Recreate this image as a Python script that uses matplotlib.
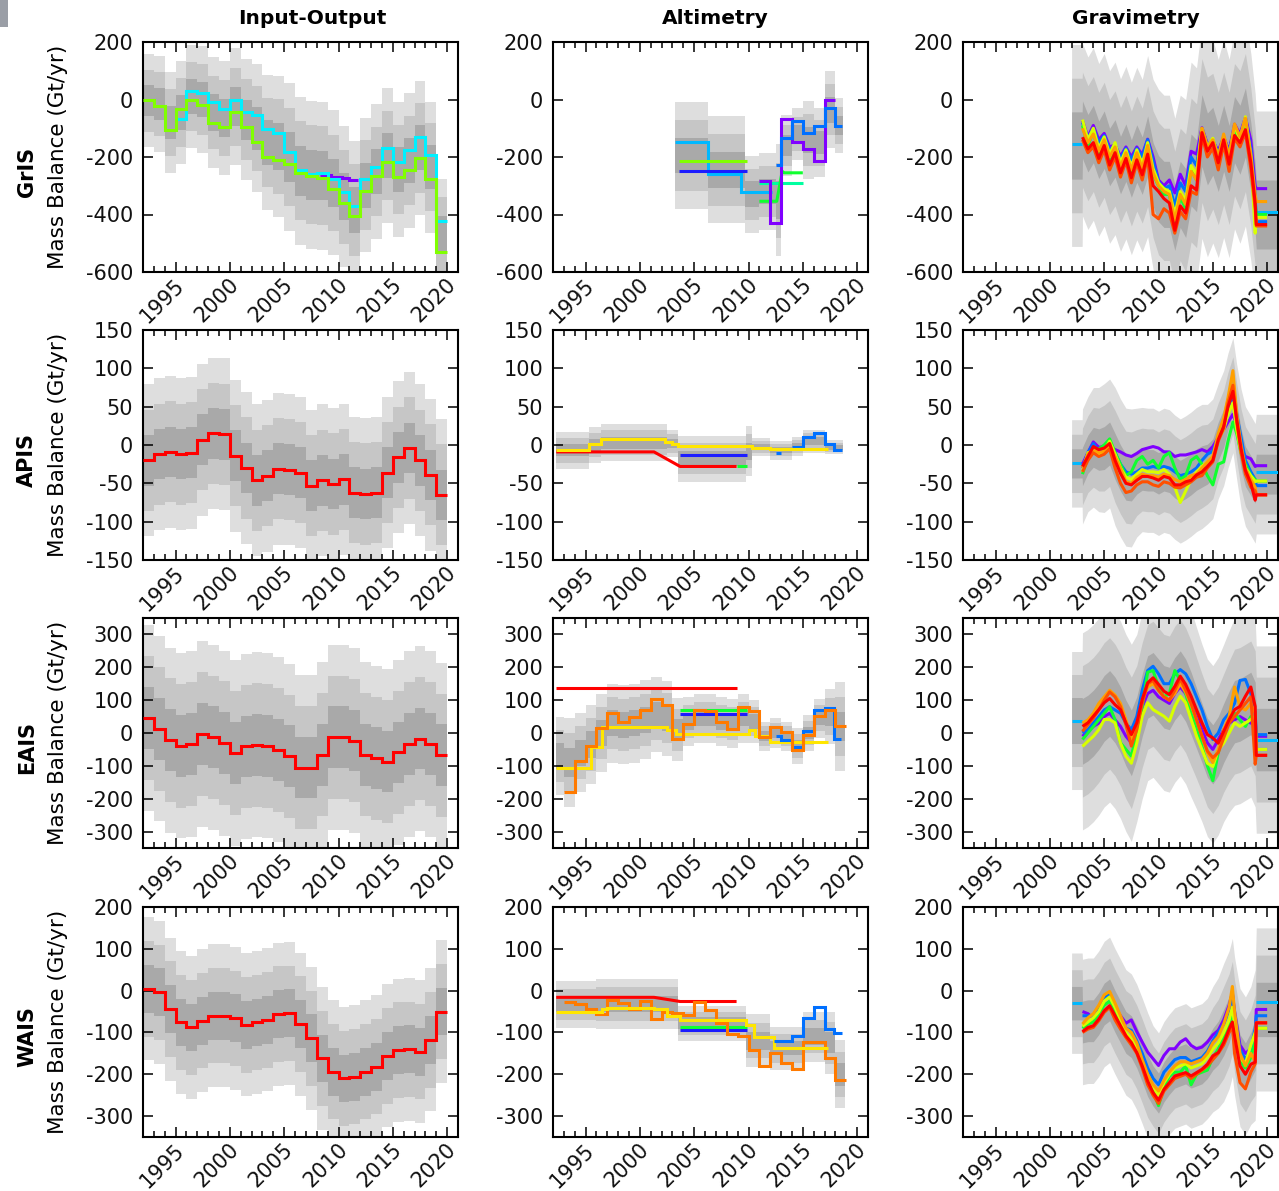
import numpy as np
import matplotlib
matplotlib.use("Agg")
import matplotlib.pyplot as plt
import matplotlib.transforms as mtransforms
from matplotlib.patches import Rectangle
from matplotlib.ticker import MultipleLocator

plt.rcParams["font.family"] = ["DejaVu Sans"]

# ---------------------------------------------------------------- colours
PURPLE = "#8000ff"
BLUE = "#1c1cff"
AZURE = "#0070ff"
SKY = "#00b8ff"
CYAN = "#00f0ff"
SPRING = "#00ffa0"
GREEN = "#10ff30"
LIME = "#80ff00"
YELLOW = "#ffe600"
GYELLOW = "#d8ff00"
ORANGE = "#ffa000"
DORANGE = "#ff7a00"
REDORANGE = "#ff5000"
RED = "#ff0000"
GREYS = ["#dedede", "#c6c6c6", "#a9a9a9"]   # 3, 2 and 1 sigma

ROWS = ["GrIS", "APIS", "EAIS", "WAIS"]
COLS = ["Input-Output", "Altimetry", "Gravimetry"]
YLIMS = [(-600, 200), (-150, 150), (-350, 350), (-350, 200)]
YTICKS = [[-600, -400, -200, 0, 200],
          [-150, -100, -50, 0, 50, 100, 150],
          [-300, -200, -100, 0, 100, 200, 300],
          [-300, -200, -100, 0, 100, 200]]
XTICKS = [1995, 2000, 2005, 2010, 2015, 2020]

# ---------------------------------------------------------------- input-output (annual)
IO_EDGES = list(range(1992, 2021))
IO_GRIS_LIME = [0, -24, -107, -32, -1, -18, -81, -96, -44, -96, -148, -200, -209, -223,
                -255, -267, -273, -310, -360, -406, -318, -266, -217, -269, -246, -203, -275, -529]
IO_GRIS_CYAN_EDGES = list(range(1995, 2021))
IO_GRIS_CYAN = [-67, 29, 23, -9, -32, -3, -44, -55, -102, -117, -183, -244, -260, -255,
                -275, -321, -371, -275, -235, -168, -217, -177, -131, -194, -422]
IO_GRIS_PURPLE_EDGES = [2008.3, 2009.3, 2010.3, 2011.0, 2011.8]
IO_GRIS_PURPLE = [-262, -268, -272, -280]
IO_GRIS_BAND_C = [-4, -15, -80, -45, 10, 0, -45, -65, -25, -70, -100, -150, -163, -200,
                  -248, -262, -265, -290, -338, -385, -298, -250, -195, -243, -212, -168, -235, -470]
IO_GRIS_BAND_S = [54, 56, 58, 60, 60, 62, 64, 66, 68, 70, 74, 78, 82, 86,
                  86, 86, 86, 84, 82, 80, 78, 78, 78, 78, 78, 78, 76, 65]

IO_APIS = [-20, -12, -9, -12, -10, 7, 15, 14, -14, -30, -46, -40, -31, -32,
           -36, -53, -46, -51, -45, -62, -64, -62, -36, -16, -4, -20, -39, -65]
IO_APIS_SIGMA = 33
IO_EAIS = [46, 13, -22, -39, -33, -3, -13, -31, -61, -41, -36, -39, -51, -71,
           -105, -105, -66, -13, -13, -23, -66, -77, -87, -59, -33, -17, -33, -68]
IO_EAIS_SIGMA = 94
IO_WAIS = [4, -4, -44, -76, -88, -72, -60, -60, -66, -82, -76, -70, -56, -54,
           -80, -114, -162, -194, -210, -206, -194, -182, -156, -142, -140, -146, -118, -50]
IO_WAIS_SIGMA = 57

# ---------------------------------------------------------------- altimetry (piecewise constant)
ALT_GRIS_SKY_EDGES = [2003.2, 2006.3, 2009.3, 2012.2]
ALT_GRIS_SKY = [-148, -258, -320]
ALT_GRIS_LIME_EDGES = [2003.6, 2009.9]
ALT_GRIS_LIME = [-214]
ALT_GRIS_BLUE_EDGES = [2003.6, 2009.9]
ALT_GRIS_BLUE = [-249]
ALT_GRIS_PURPLE_EDGES = [2011.0, 2012.0, 2013.0, 2014.0, 2015.0, 2016.0, 2017.0, 2018.0]
ALT_GRIS_PURPLE = [-283, -431, -67, -148, -173, -214, -1]
ALT_GRIS_AZURE_EDGES = [2012.5, 2013.0, 2014.0, 2015.0, 2016.0, 2017.0, 2018.0, 2018.6]
ALT_GRIS_AZURE = [-229, -134, -75, -117, -92, -29, -92]
ALT_GRIS_GREEN_X = [2011.0, 2012.6, 2013.1, 2013.3, 2015.0]
ALT_GRIS_GREEN_Y = [-354, -354, -250, -255, -255]
ALT_GRIS_SPRING_EDGES = [2011.0, 2015.0]
ALT_GRIS_SPRING = [-290]
ALT_GRIS_BAND_EDGES = [2003.2, 2006.3, 2009.7, 2011.0, 2012.5, 2013.0, 2014.0, 2015.0,
                       2016.0, 2017.0, 2018.0, 2018.7]
ALT_GRIS_BAND_C = [-195, -245, -330, -320, -350, -160, -120, -140, -150, -35, -90]
ALT_GRIS_BAND_S = [62, 62, 45, 45, 65, 35, 30, 45, 40, 45, 32]

ALT_APIS_YELLOW_EDGES = [1992.3, 1995.3, 1996.4, 2002.3, 2003.0, 2003.5, 2010.3, 2012.0, 2017.3]
ALT_APIS_YELLOW = [-6, 1, 8, 3.5, 1, -1.5, -3.5, -5]
ALT_APIS_RED_X = [1992.3, 2001.3, 2003.7, 2008.9]
ALT_APIS_RED_Y = [-9, -9, -28, -28]
ALT_APIS_GREEN_EDGES = [2008.9, 2009.9]
ALT_APIS_GREEN = [-28]
ALT_APIS_BLUE_EDGES = [2003.7, 2009.9]
ALT_APIS_BLUE = [-13]
ALT_APIS_AZURE_EDGES = [2012.5, 2013.0, 2014.0, 2015.0, 2016.0, 2017.0, 2017.9, 2018.6]
ALT_APIS_AZURE = [-11, np.nan, -2, 11, 15, 1, -7]
ALT_APIS_BAND_EDGES = [1992.3, 1995.3, 1996.4, 2002.5, 2003.5, 2009.8, 2010.3, 2012.0,
                       2014.0, 2015.0, 2017.0, 2018.7]
ALT_APIS_BAND_C = [-7, 0, 3, 2, -18, -8, -3, -7, -2, 5, -3]
ALT_APIS_BAND_S = [8, 8, 8, 6, 10, 11, 4, 4, 4, 5, 3]

ALT_EAIS_RED_EDGES = [1992.3, 2008.9]
ALT_EAIS_RED = [137]
ALT_EAIS_YELLOW_EDGES = [1992.3, 1995.5, 1996.5, 2002.5, 2003.3, 2010.0, 2010.6, 2012.0, 2017.3]
ALT_EAIS_YELLOW = [-107, -43, 17, 8, -3, 8, -8, -27]
ALT_EAIS_ORANGE_EDGES = list(range(1993, 2020))
ALT_EAIS_ORANGE = [-181, -84, -39, 15, 61, 34, 49, 71, 104, 86, -17, 28, 71, 68,
                   33, 13, 78, 66, -12, 18, 2, -53, -5, 53, 71, 20]
ALT_EAIS_GREEN_EDGES = [2003.7, 2009.9]
ALT_EAIS_GREEN = [69]
ALT_EAIS_BLUE_EDGES = [2003.7, 2009.9]
ALT_EAIS_BLUE = [58]
ALT_EAIS_AZURE_EDGES = [2012.5, 2013.0, 2014.0, 2015.0, 2016.0, 2017.0, 2017.9, 2018.5]
ALT_EAIS_AZURE = [-8, -22, -43, 5, 69, 76, -18]
ALT_EAIS_BAND_EDGES = [1992.3] + list(range(1993, 2019)) + [2018.9]
ALT_EAIS_BAND_C = [-70, -90, -60, -35, 0, 30, 25, 30, 40, 55, 45, 10, 35, 45,
                   45, 35, 30, 45, 35, -10, 0, -10, -40, 0, 45, 50, 20]
ALT_EAIS_BAND_S = [40, 45, 40, 40, 40, 40, 40, 40, 40, 38, 38, 32, 25, 25,
                   25, 25, 25, 25, 22, 15, 15, 15, 18, 18, 20, 28, 45]

ALT_WAIS_RED_X = [1992.3, 2001.3, 2003.7, 2008.9]
ALT_WAIS_RED_Y = [-16, -16, -26, -26]
ALT_WAIS_YELLOW_EDGES = [1992.3, 1996.5, 1997.0, 2001.3, 2002.5, 2003.7, 2009.8, 2010.5, 2012.3, 2017.3]
ALT_WAIS_YELLOW = [-50, -45, -42, -44, -60, -70, -82, -110, -138]
ALT_WAIS_ORANGE_EDGES = list(range(1993, 2020))
ALT_WAIS_ORANGE = [-26, -32, -44, -56, -22, -30, -44, -24, -68, -50, -54, -58, -26, -46,
                   -78, -104, -108, -142, -180, -150, -172, -188, -124, -122, -162, -214]
ALT_WAIS_GREEN_EDGES = [2003.7, 2009.9]
ALT_WAIS_GREEN = [-86]
ALT_WAIS_BLUE_EDGES = [2003.7, 2009.9]
ALT_WAIS_BLUE = [-94]
ALT_WAIS_AZURE_EDGES = [2012.3, 2014.0, 2015.0, 2016.0, 2017.0, 2017.9, 2018.6]
ALT_WAIS_AZURE = [-120, -108, -66, -40, -92, -102]
ALT_WAIS_BAND_EDGES = [1992.3, 1996.0, 2003.5, 2009.8, 2012.0, 2015.0, 2017.0, 2018.0, 2018.9]
ALT_WAIS_BAND_C = [-33, -32, -78, -120, -138, -110, -125, -200]
ALT_WAIS_BAND_S = [19, 20, 14, 21, 17, 20, 25, 27]

# ---------------------------------------------------------------- gravimetry (monthly products)
GRAV_T = [2003.0, 2003.5, 2004.0, 2004.5, 2005.0, 2005.5, 2006.0, 2006.5, 2007.0, 2007.5,
          2008.0, 2008.5, 2009.0, 2009.5, 2010.0, 2010.5, 2011.0, 2011.5, 2012.0, 2012.5,
          2013.0, 2013.5, 2014.0, 2014.5, 2015.0, 2015.5, 2016.0, 2016.5, 2017.0, 2017.5,
          2018.0, 2018.5, 2018.9, 2019.0, 2020.0]
GRAV_T_APIS = [2003.0, 2003.5, 2004.0, 2004.5, 2005.0, 2005.5, 2006.0, 2006.5, 2007.0, 2007.5,
               2008.0, 2008.5, 2009.0, 2009.5, 2010.0, 2010.5, 2011.0, 2011.5, 2012.0, 2012.5,
               2013.0, 2013.5, 2014.0, 2014.5, 2015.0, 2015.5,
               2016.0, 2016.4, 2016.85, 2017.2, 2017.6, 2018.0, 2018.5, 2018.9, 2019.0, 2020.0]
GRAV_T_WAIS = [2003.0, 2003.5, 2004.0, 2004.5, 2005.0, 2005.5, 2006.0, 2006.5, 2007.0, 2007.5,
               2008.0, 2008.5, 2009.0, 2009.5, 2010.0, 2010.5, 2011.0, 2011.5, 2012.0, 2012.5,
               2013.0, 2013.5, 2014.0, 2014.5, 2015.0, 2015.5, 2016.0, 2016.5,
               2016.8, 2017.0, 2017.5, 2018.0, 2018.5, 2018.9, 2019.0, 2020.0]

GRAV_GRIS_PURPLE = [-73, -130, -90, -140, -118, -165, -158, -198, -165, -200,
                    -165, -192, -138, -200, -280, -300, -280, -325, -260, -300,
                    -180, -190, -98, -155, -145, -178, -132, -178, -86, -120,
                    -62, -142, -300, -310, -310]
GRAV_GRIS_AZURE = [-80, -135, -100, -150, -125, -175, -160, -205, -170, -210,
                   -170, -200, -140, -215, -285, -310, -300, -370, -290, -320,
                   -200, -230, -105, -160, -140, -190, -130, -185, -95, -130,
                   -70, -170, -330, -425, -425]
GRAV_GRIS_GREEN = [-90, -160, -110, -190, -145, -210, -160, -240, -190, -255,
                   -190, -240, -165, -260, -300, -330, -330, -430, -340, -380,
                   -240, -280, -110, -175, -140, -210, -135, -215, -110, -155,
                   -75, -210, -360, -400, -400]
GRAV_GRIS_YELLOW = [-70, -140, -100, -170, -130, -190, -150, -220, -175, -235,
                    -175, -225, -150, -240, -290, -310, -320, -400, -320, -350,
                    -230, -260, -100, -165, -135, -200, -130, -200, -90, -140,
                    -60, -200, -465, -410, -410]
GRAV_GRIS_ORANGE = [-100, -150, -120, -180, -140, -200, -165, -235, -185, -245,
                    -185, -240, -160, -255, -300, -320, -330, -420, -330, -365,
                    -250, -280, -100, -165, -140, -200, -120, -200, -85, -130,
                    -65, -190, -330, -355, -355]
GRAV_GRIS_REDORANGE = [-140, -185, -165, -220, -175, -245, -200, -270, -215, -290,
                       -220, -280, -200, -400, -415, -380, -395, -465, -390, -415,
                       -320, -330, -125, -200, -170, -245, -155, -250, -135, -165,
                       -115, -240, -380, -440, -440]
GRAV_GRIS_RED = [-131, -172, -150, -205, -160, -228, -185, -255, -205, -272,
                 -210, -262, -190, -300, -320, -345, -360, -455, -370, -395,
                 -300, -315, -115, -180, -150, -220, -140, -225, -125, -150,
                 -105, -220, -360, -435, -435]
GRAV_GRIS_BAND_C = [-160, -105, -152, -120, -175, -140, -200, -170, -228, -185, -240,
                    -188, -230, -162, -260, -310, -330, -330, -410, -330, -360,
                    -245, -265, -108, -172, -145, -205, -135, -205, -105, -140,
                    -80, -200, -340, -400, -400]
GRAV_GRIS_BAND_S = [117, 100, 100, 100, 100, 100, 100, 100, 100, 100, 100,
                    100, 100, 105, 110, 115, 115, 115, 115, 115, 120,
                    125, 125, 125, 125, 118, 115, 115, 115, 115, 120,
                    120, 120, 120, 120, 120]

GRAV_APIS_PURPLE = [-25, -10, 4, -3, -2, -3, -6, -9, -13, -15,
                    -11, -6, -4, -2, -4, -9, -9, -15, -13, -13,
                    -11, -9, -6, -9, -2, 10,
                    20, 30, 40, 25, -5, -15, -18, -28, -27, -27]
GRAV_APIS_AZURE = [-30, -10, 2, -8, -6, 0, -10, -25, -35, -38,
                   -35, -30, -30, -28, -30, -28, -30, -35, -40, -38,
                   -35, -30, -20, -12, -8, 10,
                   25, 45, 65, 40, 10, -20, -35, -45, -53, -53]
GRAV_APIS_GREEN = [-38, -15, -10, -5, 0, 8, -10, -25, -40, -35,
                   -20, -15, -25, -20, -30, -15, -10, -30, -45, -40,
                   -20, -15, -25, -40, -52, -25,
                   -22, 5, 30, 15, -10, -25, -40, -45, -47, -47]
GRAV_APIS_YELLOW = [-35, -10, -8, -12, -8, 5, -12, -30, -42, -45,
                    -38, -32, -35, -35, -36, -32, -38, -55, -75, -60,
                    -45, -35, -28, -22, -15, 8,
                    20, 40, 55, 20, -10, -30, -40, -48, -47, -47]
GRAV_APIS_ORANGE = [-30, -12, -5, -10, -8, 0, -15, -30, -48, -50,
                    -42, -38, -40, -40, -42, -38, -40, -45, -48, -45,
                    -40, -38, -30, -22, -15, 15,
                    35, 62, 97, 40, 0, -30, -45, -55, -65, -65]
GRAV_APIS_REDORANGE = [-35, -20, -10, -15, -12, -5, -30, -50, -62, -60,
                       -52, -48, -48, -52, -54, -48, -50, -55, -56, -52,
                       -48, -42, -40, -30, -22, 5,
                       22, 55, 78, 30, -10, -38, -55, -60, -65, -65]
GRAV_APIS_RED = [-28, -15, -2, -6, -4, 2, -20, -37, -50, -52,
                 -46, -41, -41, -43, -46, -41, -43, -52, -52, -48,
                 -46, -39, -35, -28, -20, 7,
                 24, 50, 70, 33, -5, -33, -50, -72, -65, -65]
GRAV_APIS_BAND_C = [-24, -28, -12, -3, -6, -4, 2, -15, -30, -42, -43,
                    -36, -32, -33, -33, -37, -33, -35, -42, -47, -43,
                    -38, -32, -28, -25, -18, 5,
                    22, 45, 65, 30, -5, -28, -40, -50, -38, -38]
GRAV_APIS_BAND_S = [19, 25, 25, 26, 27, 28, 28, 30, 30, 30, 30,
                    28, 27, 27, 27, 27, 27, 27, 27, 27, 27,
                    27, 27, 27, 26, 26, 25,
                    25, 25, 25, 25, 26, 26, 26, 26, 26, 26]

GRAV_EAIS_PURPLE = [-10, 5, 20, 30, 50, 60, 40, 20, -10, -30,
                    20, 80, 120, 130, 110, 100, 90, 120, 140, 120,
                    90, 50, 10, -30, -50, -20, 10, 30, 40, 50,
                    40, 30, 40, -10, -10]
GRAV_EAIS_AZURE = [0, 10, 30, 50, 70, 80, 70, 60, 30, 10,
                   50, 130, 190, 203, 180, 150, 150, 180, 193, 180,
                   150, 110, 70, 20, -20, 0, 40, 60, 90, 160,
                   163, 120, 60, -5, -5]
GRAV_EAIS_GREEN = [-20, 0, 20, 40, 60, 80, 40, -30, -50, -70,
                   0, 80, 185, 190, 140, 110, 120, 190, 160, 120,
                   60, 20, -40, -100, -145, -60, 0, 30, 60, 40,
                   20, 50, 40, -50, -50]
GRAV_EAIS_YELLOW = [-41, -25, -10, 10, 41, 41, 31, -31, -71, -92,
                    -31, 51, 92, 71, 61, 51, 36, 81, 112, 92,
                    41, -10, -51, -92, -102, -51, -31, 0, 31, 20,
                    31, 41, 51, -50, -50]
GRAV_EAIS_ORANGE = [30, 40, 60, 90, 110, 130, 115, 90, 40, -20,
                    20, 100, 140, 150, 130, 110, 100, 120, 150, 125,
                    85, 40, -10, -60, -90, -50, 10, 50, 140, 80,
                    70, 90, 60, -68, -68]
GRAV_EAIS_REDORANGE = [5, 25, 45, 70, 100, 125, 110, 80, 25, -40,
                       10, 90, 150, 160, 130, 110, 100, 130, 165, 130,
                       90, 40, -10, -55, -75, -60, -15, 30, 50, 70,
                       90, 110, -95, -68, -68]
GRAV_EAIS_RED = [20, 31, 51, 71, 92, 105, 86, 71, 31, -5,
                 31, 102, 153, 168, 148, 127, 117, 142, 173, 148,
                 112, 71, 31, -5, -15, -31, 5, 41, 71, 81,
                 112, 140, 81, -68, -68]
GRAV_EAIS_BAND_C = [38, 5, 15, 30, 50, 75, 90, 70, 40, 0, -30,
                    15, 85, 140, 150, 130, 110, 105, 135, 155, 130,
                    90, 45, 0, -45, -65, -40, 0, 35, 65, 70,
                    80, 90, 60, -20, -20]
GRAV_EAIS_BAND_S = [70, 100, 100, 100, 100, 100, 100, 100, 100, 100, 100,
                    95, 95, 95, 95, 95, 95, 95, 95, 95, 95,
                    95, 92, 90, 90, 90, 90, 90, 92, 95, 95,
                    95, 95, 95, 95, 95]

GRAV_WAIS_PURPLE = [-50, -55, -66, -40, -18, -10, -42, -60, -78, -70,
                    -98, -123, -147, -163, -179, -155, -139, -139, -123, -115,
                    -131, -139, -135, -123, -106, -95, -70, -35,
                    -5, -50, -130, -150, -139, -123, -45, -45]
GRAV_WAIS_AZURE = [-60, -60, -60, -45, -20, -5, -40, -65, -90, -95,
                   -120, -150, -185, -210, -225, -195, -180, -165, -160, -160,
                   -170, -165, -160, -145, -120, -100, -80, -45,
                   -10, -60, -140, -165, -140, -90, -60, -60]
GRAV_WAIS_GREEN = [-90, -80, -75, -55, -35, -25, -50, -75, -110, -120,
                   -140, -175, -215, -240, -275, -230, -205, -195, -195, -180,
                   -225, -200, -195, -190, -160, -140, -110, -80,
                   -50, -90, -170, -185, -160, -120, -90, -90]
GRAV_WAIS_YELLOW = [-85, -75, -65, -50, -25, -15, -40, -70, -100, -115,
                    -140, -170, -205, -230, -250, -220, -200, -185, -180, -175,
                    -185, -180, -175, -160, -140, -125, -100, -70,
                    -40, -80, -160, -175, -130, -100, -90, -90]
GRAV_WAIS_ORANGE = [-80, -65, -55, -35, -10, -2, -30, -60, -90, -100,
                    -125, -165, -200, -225, -240, -215, -195, -180, -170, -170,
                    -175, -170, -165, -150, -125, -110, -80, -40,
                    10, -50, -150, -180, -150, -170, -77, -77]
GRAV_WAIS_REDORANGE = [-100, -92, -88, -72, -52, -40, -70, -92, -112, -130,
                       -150, -185, -225, -250, -270, -240, -225, -210, -205, -200,
                       -210, -200, -190, -180, -165, -150, -130, -100,
                       -85, -150, -220, -235, -195, -175, -77, -77]
GRAV_WAIS_RED = [-98, -88, -84, -68, -48, -36, -60, -84, -108, -124,
                 -148, -180, -216, -244, -262, -236, -220, -204, -200, -196,
                 -204, -196, -188, -176, -156, -148, -124, -92,
                 -75, -108, -180, -200, -176, -171, -77, -77]
GRAV_WAIS_BAND_C = [-30, -75, -72, -72, -55, -32, -22, -50, -75, -100, -110,
                    -135, -168, -203, -228, -245, -218, -200, -185, -180, -175,
                    -185, -180, -175, -162, -140, -125, -100, -70,
                    -40, -85, -160, -180, -155, -130, -45, -45]
GRAV_WAIS_BAND_S = [40, 50, 50, 50, 50, 50, 50, 50, 50, 50, 50,
                    50, 50, 50, 48, 48, 48, 48, 48, 48, 48,
                    48, 48, 48, 48, 50, 52, 55, 55,
                    55, 55, 55, 55, 55, 60, 65, 65]

# first and last annual gravimetry values (2002-2003 and 2019-2021)
GRAV_SKY_START = [-154, -24, 38, -30]
GRAV_SKY_END = [-390, -35, -22, -28]

# ---------------------------------------------------------------- drawing helpers
LW = 2.2
W_PX, H_PX = 1279, 1191
COL_X0 = [143, 553, 963]
ROW_Y0 = [42, 330, 618, 907]
PANEL_W, PANEL_H = 315, 230


def stair_xy(edges, vals):
    e = np.asarray(edges, float)
    v = np.asarray(vals, float)
    return np.repeat(e, 2)[1:-1], np.repeat(v, 2)


def draw_band(ax, x, center, sigma):
    c = np.asarray(center, float)
    s = np.broadcast_to(np.asarray(sigma, float), c.shape)
    for k, col in zip((3, 2, 1), GREYS):
        ax.fill_between(x, c - k * s, c + k * s, color=col, lw=0, zorder=1)


def stair_band(ax, edges, center, sigma):
    x, c = stair_xy(edges, center)
    s = np.broadcast_to(np.asarray(sigma, float), (len(center),))
    _, s2 = stair_xy(edges, s)
    draw_band(ax, x, c, s2)


def stair_line(ax, edges, vals, color):
    x, y = stair_xy(edges, vals)
    ax.plot(x, y, color=color, lw=LW, solid_joinstyle="miter", solid_capstyle="butt", zorder=3)


def poly_line(ax, x, y, color):
    ax.plot(x, y, color=color, lw=LW, solid_joinstyle="round", solid_capstyle="butt", zorder=3)


def grav_panel(ax, t, series, band_c, band_s, sky0, sky1):
    t = list(t)
    bx = np.r_[2002.0, 2002.97, t[:-1], 2021.0]
    bc = np.r_[band_c[0], band_c]
    bs = np.r_[band_s[0], band_s]
    draw_band(ax, bx, bc, bs)
    poly_line(ax, [2002.0, 2003.0], [sky0, sky0], SKY)
    poly_line(ax, [2019.0, 2021.0], [sky1, sky1], SKY)
    for vals, col in series:
        poly_line(ax, t, vals, col)


def style_axes(fig, ax, ylim, yticks):
    ax.set_xlim(1992, 2021)
    ax.set_ylim(*ylim)
    ax.set_xticks(XTICKS)
    ax.set_xticklabels([str(v) for v in XTICKS], rotation=45, ha="right", va="center",
                       rotation_mode="anchor")
    ax.xaxis.set_minor_locator(MultipleLocator(1))
    ax.set_yticks(yticks)
    ax.set_yticklabels([str(v) for v in yticks])
    ax.tick_params(which="both", direction="in", top=True, right=True, width=1.1,
                   labelsize=15, color="black", labelcolor="#111111")
    ax.tick_params(which="major", length=7.5)
    ax.tick_params(which="minor", length=4.5)
    ax.tick_params(axis="y", pad=7)
    ax.tick_params(axis="x", pad=7)
    for sp in ax.spines.values():
        sp.set_linewidth(1.5)
    shift = mtransforms.ScaledTranslation(0.06, 0, fig.dpi_scale_trans)
    for lab in ax.get_xticklabels():
        lab.set_transform(lab.get_transform() + shift)


# ---------------------------------------------------------------- figure
fig = plt.figure(figsize=(W_PX / 100, H_PX / 100), dpi=100)
axes = []
for r in range(4):
    row = []
    for c in range(3):
        rect = [COL_X0[c] / W_PX, 1 - (ROW_Y0[r] + PANEL_H) / H_PX, PANEL_W / W_PX, PANEL_H / H_PX]
        row.append(fig.add_axes(rect))
    axes.append(row)

# Input-Output column
ax = axes[0][0]
stair_band(ax, IO_EDGES, IO_GRIS_BAND_C, IO_GRIS_BAND_S)
stair_line(ax, IO_GRIS_PURPLE_EDGES, IO_GRIS_PURPLE, PURPLE)
stair_line(ax, IO_GRIS_CYAN_EDGES, IO_GRIS_CYAN, CYAN)
stair_line(ax, IO_EDGES, IO_GRIS_LIME, LIME)

for r, (vals, sig) in zip((1, 2, 3), ((IO_APIS, IO_APIS_SIGMA), (IO_EAIS, IO_EAIS_SIGMA),
                                      (IO_WAIS, IO_WAIS_SIGMA))):
    stair_band(axes[r][0], IO_EDGES, vals, sig)
    stair_line(axes[r][0], IO_EDGES, vals, RED)

# Altimetry column
ax = axes[0][1]
stair_band(ax, ALT_GRIS_BAND_EDGES, ALT_GRIS_BAND_C, ALT_GRIS_BAND_S)
stair_line(ax, ALT_GRIS_SKY_EDGES, ALT_GRIS_SKY, SKY)
stair_line(ax, ALT_GRIS_LIME_EDGES, ALT_GRIS_LIME, LIME)
stair_line(ax, ALT_GRIS_BLUE_EDGES, ALT_GRIS_BLUE, BLUE)
stair_line(ax, ALT_GRIS_SPRING_EDGES, ALT_GRIS_SPRING, SPRING)
poly_line(ax, ALT_GRIS_GREEN_X, ALT_GRIS_GREEN_Y, GREEN)
stair_line(ax, ALT_GRIS_PURPLE_EDGES, ALT_GRIS_PURPLE, PURPLE)
stair_line(ax, ALT_GRIS_AZURE_EDGES, ALT_GRIS_AZURE, AZURE)

ax = axes[1][1]
stair_band(ax, ALT_APIS_BAND_EDGES, ALT_APIS_BAND_C, ALT_APIS_BAND_S)
stair_line(ax, ALT_APIS_BLUE_EDGES, ALT_APIS_BLUE, BLUE)
poly_line(ax, ALT_APIS_RED_X, ALT_APIS_RED_Y, RED)
stair_line(ax, ALT_APIS_GREEN_EDGES, ALT_APIS_GREEN, GREEN)
stair_line(ax, ALT_APIS_AZURE_EDGES, ALT_APIS_AZURE, AZURE)
stair_line(ax, ALT_APIS_YELLOW_EDGES, ALT_APIS_YELLOW, YELLOW)

ax = axes[2][1]
stair_band(ax, ALT_EAIS_BAND_EDGES, ALT_EAIS_BAND_C, ALT_EAIS_BAND_S)
stair_line(ax, ALT_EAIS_RED_EDGES, ALT_EAIS_RED, RED)
stair_line(ax, ALT_EAIS_GREEN_EDGES, ALT_EAIS_GREEN, GREEN)
stair_line(ax, ALT_EAIS_BLUE_EDGES, ALT_EAIS_BLUE, BLUE)
stair_line(ax, ALT_EAIS_YELLOW_EDGES, ALT_EAIS_YELLOW, YELLOW)
stair_line(ax, ALT_EAIS_AZURE_EDGES, ALT_EAIS_AZURE, AZURE)
stair_line(ax, ALT_EAIS_ORANGE_EDGES, ALT_EAIS_ORANGE, DORANGE)

ax = axes[3][1]
stair_band(ax, ALT_WAIS_BAND_EDGES, ALT_WAIS_BAND_C, ALT_WAIS_BAND_S)
poly_line(ax, ALT_WAIS_RED_X, ALT_WAIS_RED_Y, RED)
stair_line(ax, ALT_WAIS_GREEN_EDGES, ALT_WAIS_GREEN, GREEN)
stair_line(ax, ALT_WAIS_BLUE_EDGES, ALT_WAIS_BLUE, BLUE)
stair_line(ax, ALT_WAIS_ORANGE_EDGES, ALT_WAIS_ORANGE, DORANGE)
stair_line(ax, ALT_WAIS_YELLOW_EDGES, ALT_WAIS_YELLOW, YELLOW)
stair_line(ax, ALT_WAIS_AZURE_EDGES, ALT_WAIS_AZURE, AZURE)

# Gravimetry column
GRAV_PANELS = [
    (GRAV_T, [GRAV_GRIS_PURPLE, GRAV_GRIS_AZURE, GRAV_GRIS_GREEN, GRAV_GRIS_YELLOW,
              GRAV_GRIS_ORANGE, GRAV_GRIS_REDORANGE, GRAV_GRIS_RED], GRAV_GRIS_BAND_C, GRAV_GRIS_BAND_S),
    (GRAV_T_APIS, [GRAV_APIS_PURPLE, GRAV_APIS_AZURE, GRAV_APIS_GREEN, GRAV_APIS_YELLOW,
                   GRAV_APIS_ORANGE, GRAV_APIS_REDORANGE, GRAV_APIS_RED], GRAV_APIS_BAND_C, GRAV_APIS_BAND_S),
    (GRAV_T, [GRAV_EAIS_PURPLE, GRAV_EAIS_AZURE, GRAV_EAIS_GREEN, GRAV_EAIS_YELLOW,
              GRAV_EAIS_ORANGE, GRAV_EAIS_REDORANGE, GRAV_EAIS_RED], GRAV_EAIS_BAND_C, GRAV_EAIS_BAND_S),
    (GRAV_T_WAIS, [GRAV_WAIS_PURPLE, GRAV_WAIS_AZURE, GRAV_WAIS_GREEN, GRAV_WAIS_YELLOW,
                   GRAV_WAIS_ORANGE, GRAV_WAIS_REDORANGE, GRAV_WAIS_RED], GRAV_WAIS_BAND_C, GRAV_WAIS_BAND_S),
]
GRAV_COLOURS = [PURPLE, AZURE, GREEN, GYELLOW, ORANGE, REDORANGE, RED]
for r, (t, sers, bc, bs) in enumerate(GRAV_PANELS):
    grav_panel(axes[r][2], t, list(zip(sers, GRAV_COLOURS)), bc, bs,
               GRAV_SKY_START[r], GRAV_SKY_END[r])

for r in range(4):
    for c in range(3):
        style_axes(fig, axes[r][c], YLIMS[r], YTICKS[r])

# titles and row labels
for x_px, title in zip((312, 715, 1136), COLS):
    fig.text(x_px / W_PX, 1 - 18 / H_PX, title, ha="center", va="center",
             fontsize=14.5, fontweight="bold")
for r, name in enumerate(ROWS):
    yc = ROW_Y0[r] + PANEL_H / 2
    fig.text(27 / W_PX, 1 - (yc + 15) / H_PX, name, rotation=90, ha="center", va="center",
             fontsize=15, fontweight="bold")
    fig.text(58 / W_PX, 1 - yc / H_PX, "Mass Balance (Gt/yr)", rotation=90, ha="center",
             va="center", fontsize=15.5)

fig.patches.append(Rectangle((0, 1 - 27 / H_PX), 8 / W_PX, 27 / H_PX, transform=fig.transFigure,
                             facecolor="#9a9ea6", edgecolor="none"))

fig.savefig("out.png", dpi=100)
